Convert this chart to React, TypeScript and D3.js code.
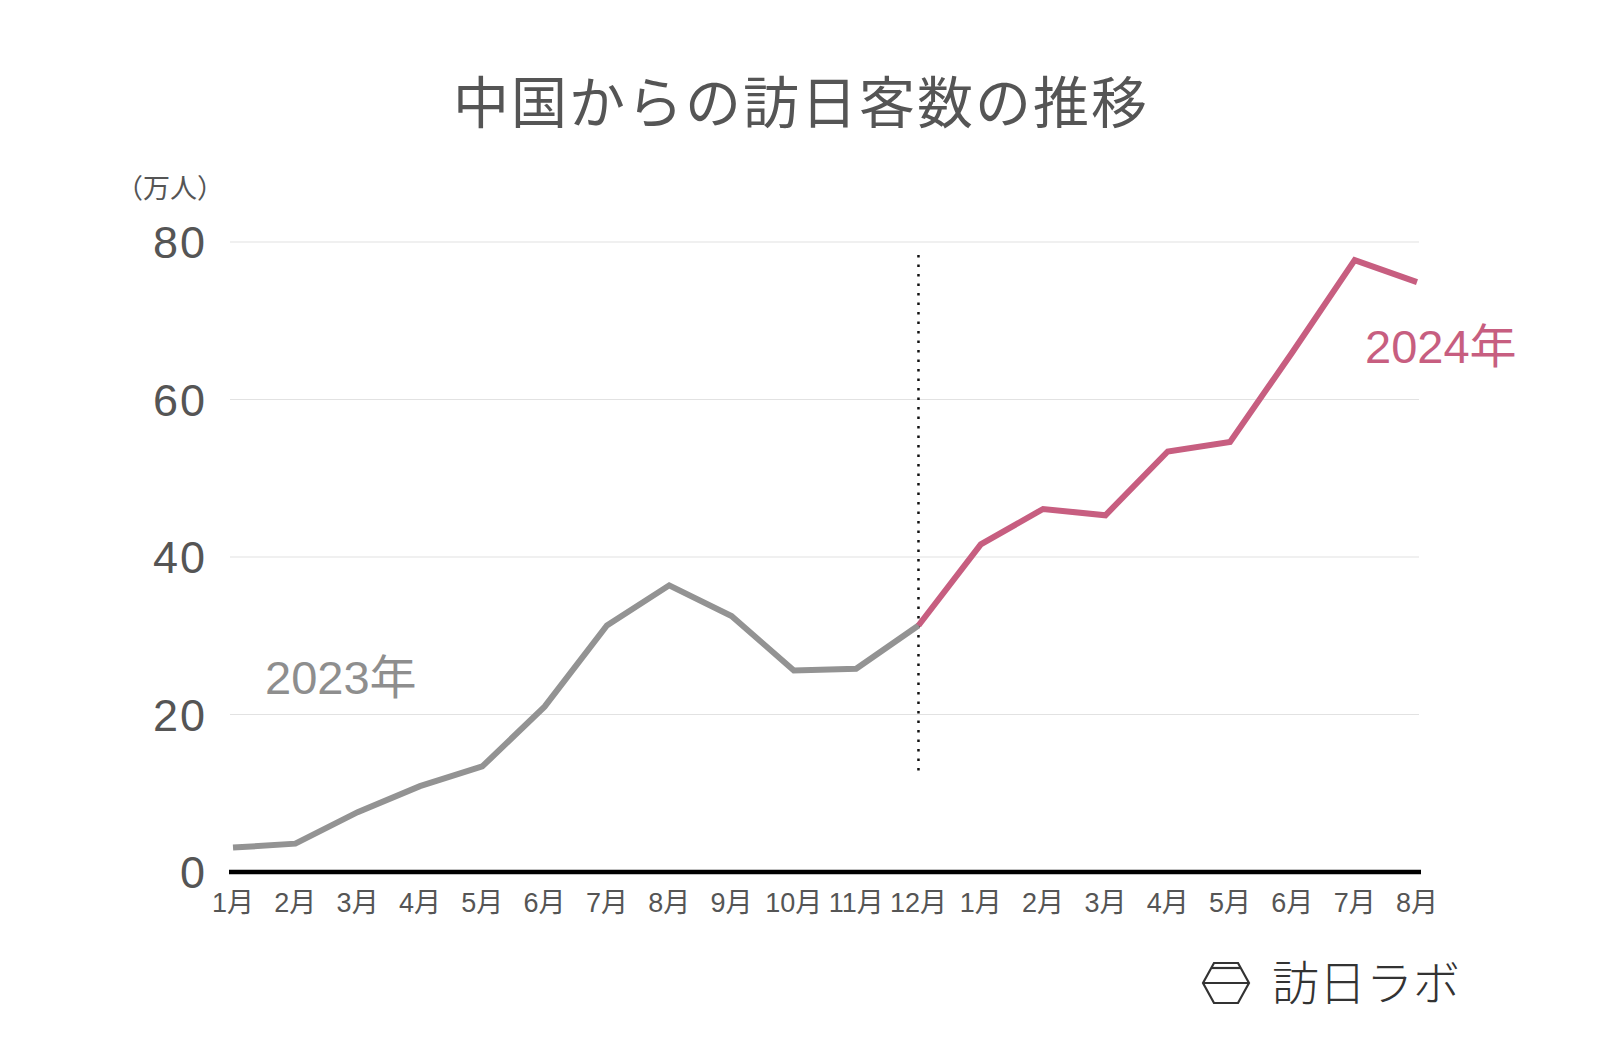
import React from "react";
import * as d3 from "d3";

const months = ["1月","2月","3月","4月","5月","6月","7月","8月","9月","10月","11月","12月","1月","2月","3月","4月","5月","6月","7月","8月"];
const values2023 = [3.1, 3.6, 7.6, 10.9, 13.4, 21.0, 31.3, 36.4, 32.5, 25.6, 25.8, 31.3];
const values2024 = [41.6, 46.1, 45.3, 53.4, 54.6, 66.0, 77.7, 74.9];
const yTicks = [0, 20, 40, 60, 80];

const W = 1600, H = 1048;
const FONT = "'Noto Sans CJK JP', 'Noto Sans', sans-serif";
const NUMFONT = "'Liberation Sans', 'Noto Sans CJK JP', sans-serif";

export default function App() {
  const x = d3.scaleLinear().domain([0, months.length - 1]).range([233, 1417]);
  const y = d3.scaleLinear().domain([0, 80]).range([872, 242]);
  const line = d3.line<[number, number]>().x(d => x(d[0])).y(d => y(d[1]));
  const pts2023: [number, number][] = values2023.map((v, i) => [i, v]);
  const pts2024: [number, number][] = [[11, values2023[11]], ...values2024.map((v, i) => [i + 12, v] as [number, number])];

  const hx = 1226, hy = 983;
  return (
    <svg width={W} height={H} style={{ position: "absolute", left: 0, top: 0, background: "#fff" }} fontFamily={FONT}>
      <text x={801} y={123} textAnchor="middle" fontSize={56} letterSpacing={2} fill="#555">中国からの訪日客数の推移</text>
      <text x={170} y={198} textAnchor="middle" fontSize={27} fill="#555">（万人）</text>
      {yTicks.filter(t => t > 0).map(t => (
        <line key={t} x1={230} x2={1419} y1={y(t)} y2={y(t)} stroke="#e2e2e2" strokeWidth={1.2} />
      ))}
      {yTicks.map(t => (
        <text key={t} x={207} y={y(t)} dy="0.36em" textAnchor="end" fontSize={45} letterSpacing={2} fill="#555" fontFamily={NUMFONT}>{t}</text>
      ))}
      <line x1={x(11)} x2={x(11)} y1={255} y2={772} stroke="#111" strokeWidth={2.5} strokeDasharray="2.5 7" />
      <path d={line(pts2023) ?? ""} fill="none" stroke="#939393" strokeWidth={6} strokeLinejoin="miter" />
      <path d={line(pts2024) ?? ""} fill="none" stroke="#c75e80" strokeWidth={6} strokeLinejoin="miter" />
      <line x1={229} x2={1421} y1={y(0)} y2={y(0)} stroke="#000" strokeWidth={4.5} />
      {months.map((m, i) => (
        <text key={i} x={x(i)} y={912} textAnchor="middle" fontSize={27} fill="#555" fontFamily={NUMFONT}>{m}</text>
      ))}
      <text x={265} y={694} fontSize={47} fill="#8e8e8e" fontFamily={NUMFONT}>2023年</text>
      <text x={1365} y={363} fontSize={47} fill="#c75e80" fontFamily={NUMFONT}>2024年</text>
      <g stroke="#333" strokeWidth={2.2} fill="none">
        <path d={`M${hx - 23},${hy} L${hx - 12},${hy - 20} L${hx + 12},${hy - 20} L${hx + 23},${hy} L${hx + 12},${hy + 20} L${hx - 12},${hy + 20} Z`} />
        <line x1={hx - 23} x2={hx + 23} y1={hy} y2={hy} />
        <line x1={hx - 14} x2={hx + 14} y1={hy - 15} y2={hy - 15} />
      </g>
      <text x={1272} y={1000} fontSize={47} fill="#333" fontWeight={300}>訪日ラボ</text>
    </svg>
  );
}
